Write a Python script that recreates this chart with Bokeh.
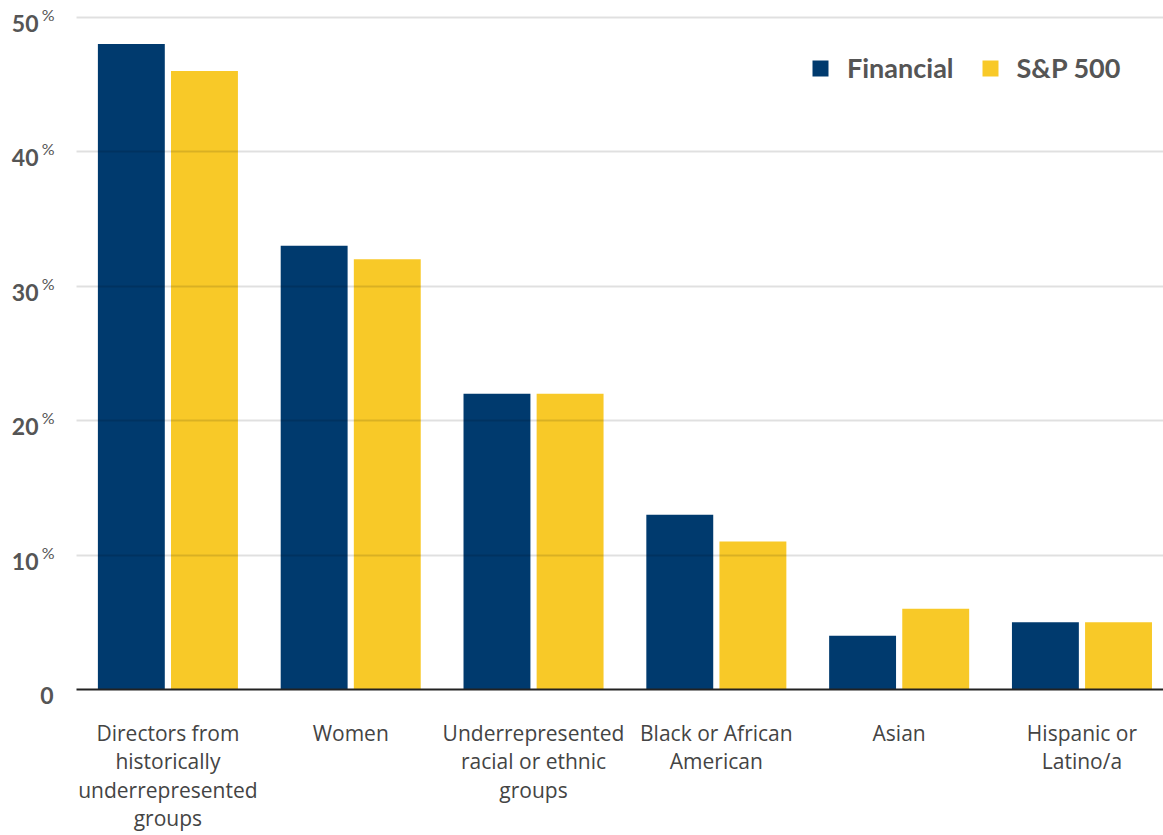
from bokeh.plotting import figure
from bokeh.layouts import row
from bokeh.models import (ColumnDataSource, Range1d, FixedTicker, Legend, LegendItem)
from bokeh.core.properties import value
from bokeh.transform import dodge
from bokeh.embed import file_html
from bokeh.resources import INLINE

categories = ["Directors from\nhistorically\nunderrepresented\ngroups", "Women",
              "Underrepresented\nracial or ethnic\ngroups", "Black or African\nAmerican",
              "Asian", "Hispanic or\nLatino/a"]
financial = [48, 33, 22, 13, 4, 5]
sp500 = [46, 32, 22, 11, 6, 5]
ytick_values = [10, 20, 30, 40, 50]
ytick_text = ["10", "20", "30", "40", "50"]
zero_value = [0]
zero_text = ["0"]

NAVY = "#003a6e"
YELLOW = "#f8c928"
Y_END = 51.24
FRAME_H = 689
LABEL_H = 716

idx = list(range(len(categories)))
src = ColumnDataSource(dict(x=idx, fin=financial, sp=sp500))

# ---- main chart ----
p = figure(frame_width=1087, frame_height=FRAME_H, output_backend="svg", toolbar_location=None,
           x_range=Range1d(-0.5, 5.446), y_range=Range1d(0, Y_END),
           min_border_left=0, min_border_right=0, min_border_top=0, min_border_bottom=146)
p.outline_line_color = None

r1 = p.vbar(x=dodge("x", -0.2, range=p.x_range), top="fin", width=0.366, source=src,
            fill_color=NAVY, line_color=None)
r2 = p.vbar(x=dodge("x", 0.2, range=p.x_range), top="sp", width=0.366, source=src,
            fill_color=YELLOW, line_color=None)

p.yaxis.visible = False
p.xgrid.visible = False
p.ygrid.ticker = FixedTicker(ticks=zero_value + ytick_values)
p.ygrid.grid_line_color = "black"
p.ygrid.grid_line_alpha = 0.12
p.ygrid.grid_line_width = 2
p.ygrid.level = "overlay"

xa = p.xaxis[0]
xa.ticker = FixedTicker(ticks=idx)
xa.major_label_overrides = {i: c for i, c in zip(idx, categories)}
xa.major_tick_line_color = None
xa.minor_tick_line_color = None
xa.axis_line_color = "#222222"
xa.axis_line_width = 2
xa.major_label_standoff = 23
xa.major_label_text_font = "Open Sans"
xa.major_label_text_font_size = "21px"
xa.major_label_text_line_height = 1.02
xa.major_label_text_color = "#444444"

legend = Legend(items=[LegendItem(label="Financial", renderers=[r1]),
                       LegendItem(label="S&P 500", renderers=[r2])],
                location=(734, 605), orientation="horizontal",
                glyph_width=20, glyph_height=20, label_standoff=17, spacing=26,
                padding=0, margin=0, border_line_color=None, background_fill_alpha=0,
                label_text_font="Lato", label_text_font_style="bold",
                label_text_font_size="27px", label_text_color="#555555")
p.add_layout(legend)

# ---- y tick labels panel (same vertical scale, extended below zero) ----
q_start = Y_END - LABEL_H * Y_END / FRAME_H
q = figure(frame_width=76, frame_height=LABEL_H, output_backend="svg", toolbar_location=None,
           x_range=Range1d(0, 76), y_range=Range1d(q_start, Y_END),
           min_border_left=0, min_border_right=0, min_border_top=0,
           min_border_bottom=835 - LABEL_H)
q.axis.visible = False
q.grid.visible = False
q.outline_line_color = None

ysrc = ColumnDataSource(dict(y=ytick_values, t=ytick_text, pct=["%"] * len(ytick_values)))
zsrc = ColumnDataSource(dict(y=zero_value, t=zero_text))
q.text(x=38, y="y", text="t", source=ysrc, text_align="right", text_baseline="middle",
       y_offset=6, text_font=value("Lato"), text_font_style="bold",
       text_font_size="23px", text_color="#555555")
q.text(x=54, y="y", text="pct", source=ysrc, text_align="right", text_baseline="middle",
       y_offset=-3, text_font=value("Lato"), text_font_size="16px", text_color="#555555")
q.text(x=53, y="y", text="t", source=zsrc, text_align="right", text_baseline="middle",
       y_offset=6, text_font=value("Lato"), text_font_style="bold",
       text_font_size="23px", text_color="#555555")

layout = row(q, p, spacing=0)
open("out.html", "w").write(file_html(layout, INLINE))
